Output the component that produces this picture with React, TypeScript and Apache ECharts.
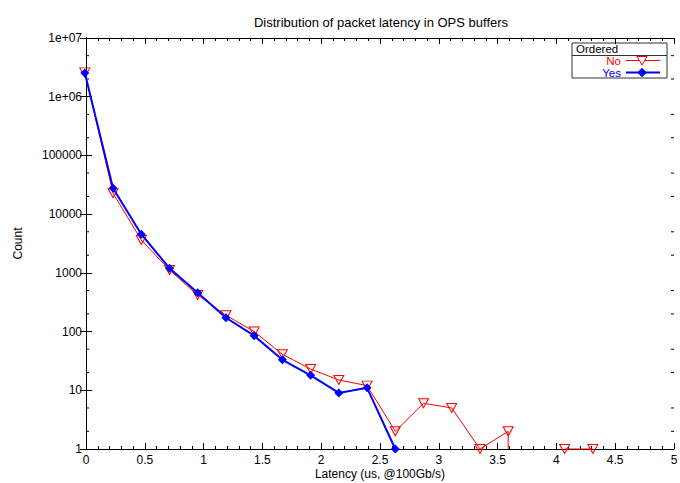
import React, { useEffect, useRef } from "react";
import * as echarts from "echarts";

const titleText = "Distribution of packet latency in OPS buffers";
const xAxisName = "Latency (us, @100Gb/s)";
const yAxisName = "Count";
const legendTitle = "Ordered";
const seriesNames = ["No", "Yes"];

// bin centres (us)
const latency = [-0.01, 0.23, 0.47, 0.71, 0.95, 1.19, 1.43, 1.67, 1.91, 2.15, 2.39, 2.63, 2.87, 3.11, 3.35, 3.59, 3.83, 4.07, 4.31];
// counts, unordered ("No")
const countsNo = [2600000, 22700, 3630, 1120, 420, 190, 100, 41, 23, 15, 12, 2, 6, 5, 1, 2, 0, 1, 1];
// counts, ordered ("Yes")
const countsYes = [2540000, 27600, 4550, 1200, 460, 172, 85, 33, 18, 9, 11, 1];

const yMinorTicks = [2, 5, 20, 50, 200, 500, 2000, 5000, 20000, 50000, 200000, 500000, 2000000, 5000000];

const FONT = "'Liberation Sans', Arial, Helvetica, sans-serif";

function buildLogSeries(xs: number[], ys: number[]) {
  const out: any[] = [];
  for (let i = 0; i < ys.length; i++) {
    if (ys[i] <= 0) {
      // gnuplot drops the line to the axis when a log value is undefined
      if (i > 0 && ys[i - 1] > 0) {
        out.push({ value: [xs[i - 1], 1], symbol: "none" });
      }
      out.push({ value: [xs[i], null] });
    } else {
      out.push({ value: [xs[i], ys[i]] });
    }
  }
  return out;
}

function yLabel(v: number) {
  if (v >= 1000000) {
    const e = Math.round(Math.log10(v));
    return "1e+" + (e < 10 ? "0" + e : String(e));
  }
  return String(Math.round(v));
}

export default function App() {
  const ref = useRef<HTMLDivElement>(null);
  useEffect(() => {
    if (!ref.current) return;
    const chart = echarts.init(ref.current, null, { renderer: "svg" });
    const axisLine = { show: true, lineStyle: { color: "#000", width: 1 } };
    const xCommon = {
      type: "value",
      min: 0,
      max: 5,
      interval: 0.5,
      axisLine,
      axisTick: { show: true, inside: true, length: 6, lineStyle: { color: "#000" } },
      minorTick: { show: true, splitNumber: 5, length: 3, lineStyle: { color: "#000" } },
      splitLine: { show: false },
      minorSplitLine: { show: false },
    };
    const yCommon = {
      type: "log",
      logBase: 10,
      min: 1,
      max: 10000000,
      splitNumber: 7,
      axisLine,
      axisTick: { show: true, inside: true, length: 6, lineStyle: { color: "#000" } },
      minorTick: { show: false },
      splitLine: { show: false },
    };
    const legendFont = `11.5px ${FONT}`;
    chart.setOption({
      animation: false,
      backgroundColor: "#fff",
      title: {
        text: titleText,
        left: 376,
        top: 11,
        textAlign: "center",
        textStyle: { fontFamily: FONT, fontSize: 13, fontWeight: "normal", color: "#000" },
      },
      grid: { left: 86, right: 6, top: 38, bottom: 34, show: false, containLabel: false, outerBoundsMode: "none" },
      xAxis: [
        {
          ...xCommon,
          position: "bottom",
          name: xAxisName,
          nameLocation: "middle",
          nameGap: 18,
          nameMoveOverlap: false,
          nameTextStyle: { fontFamily: FONT, fontSize: 12, color: "#000", lineHeight: 14 },
          axisLabel: {
            fontFamily: FONT,
            fontSize: 12,
            color: "#000",
            margin: 5,
            formatter: (v: number) => String(v),
          },
        },
        { ...xCommon, position: "top", axisLabel: { show: false } },
      ],
      yAxis: [
        {
          ...yCommon,
          position: "left",
          name: yAxisName,
          nameLocation: "middle",
          nameGap: 62,
          nameMoveOverlap: false,
          nameTextStyle: { fontFamily: FONT, fontSize: 12, color: "#000" },
          axisLabel: { fontFamily: FONT, fontSize: 12, color: "#000", margin: 4, formatter: yLabel },
        },
        { ...yCommon, position: "right", axisLabel: { show: false } },
      ],
      series: [
        {
          type: "custom",
          xAxisIndex: 0,
          yAxisIndex: 0,
          silent: true,
          clip: false,
          data: yMinorTicks.map((v) => [0, v]),
          renderItem: (params: any, api: any) => {
            const v = api.value(1);
            const l = api.coord([0, v]);
            const r = api.coord([5, v]);
            return {
              type: "group",
              children: [
                { type: "line", shape: { x1: l[0], y1: l[1], x2: l[0] + 3, y2: l[1] }, style: { stroke: "#000", lineWidth: 1 } },
                { type: "line", shape: { x1: r[0] - 3, y1: r[1], x2: r[0], y2: r[1] }, style: { stroke: "#000", lineWidth: 1 } },
              ],
            };
          },
        },
        {
          name: seriesNames[0],
          type: "line",
          xAxisIndex: 0,
          yAxisIndex: 0,
          clip: false,
          connectNulls: false,
          data: buildLogSeries(latency, countsNo),
          symbol: "path://M0,0L10,0L5,9Z",
          symbolSize: [10, 9],
          lineStyle: { color: "#ff0000", width: 1 },
          itemStyle: { color: "rgba(255,255,255,0)", borderColor: "#ff0000", borderWidth: 1 },
          z: 3,
        },
        {
          name: seriesNames[1],
          type: "line",
          xAxisIndex: 0,
          yAxisIndex: 0,
          clip: false,
          data: buildLogSeries(latency, countsYes),
          symbol: "diamond",
          symbolSize: 9,
          lineStyle: { color: "#0000ff", width: 2 },
          itemStyle: { color: "#0000ff" },
          z: 4,
        },
      ],
      graphic: [
        {
          type: "group",
          z: 100,
          children: [
            { type: "rect", shape: { x: 572, y: 43, width: 95, height: 35 }, style: { fill: "#fff", stroke: "#333", lineWidth: 1 } },
            { type: "line", shape: { x1: 572, y1: 55.5, x2: 667, y2: 55.5 }, style: { stroke: "#333", lineWidth: 1 } },
            { type: "text", x: 576, y: 49, style: { text: legendTitle, font: legendFont, fill: "#000", verticalAlign: "middle" } },
            { type: "text", x: 621, y: 61, style: { text: seriesNames[0], font: legendFont, fill: "#ff0000", align: "right", verticalAlign: "middle" } },
            { type: "line", shape: { x1: 626, y1: 60.5, x2: 660, y2: 60.5 }, style: { stroke: "#ff0000", lineWidth: 1 } },
            { type: "polygon", shape: { points: [[637, 56.5], [647, 56.5], [642, 65]] }, style: { fill: "#fff", stroke: "#ff0000", lineWidth: 1 } },
            { type: "text", x: 621, y: 73, style: { text: seriesNames[1], font: legendFont, fill: "#0000ff", align: "right", verticalAlign: "middle" } },
            { type: "line", shape: { x1: 626, y1: 72.5, x2: 660, y2: 72.5 }, style: { stroke: "#0000ff", lineWidth: 2 } },
            { type: "polygon", shape: { points: [[642, 68], [646.5, 72.5], [642, 77], [637.5, 72.5]] }, style: { fill: "#0000ff", stroke: "#0000ff", lineWidth: 0.5 } },
          ],
        },
      ],
    });
    return () => chart.dispose();
  }, []);
  return <div ref={ref} style={{ width: 680, height: 483, position: "absolute", left: 0, top: 0 }} />;
}
